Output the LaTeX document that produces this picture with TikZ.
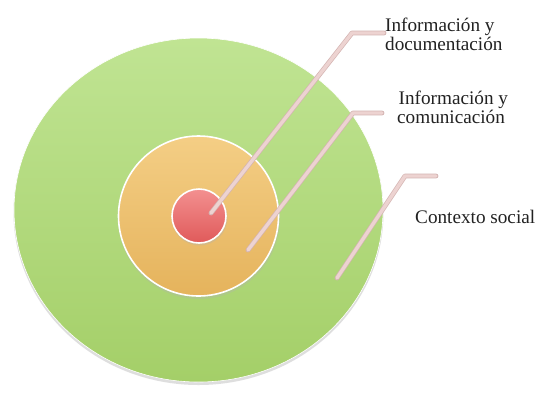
\documentclass[tikz,border=0pt]{standalone}
\usepackage{fontspec}
\setmainfont{Liberation Serif}
\usetikzlibrary{shapes.geometric,shadows}
\definecolor{gtop}{HTML}{C0E493}
\definecolor{gbot}{HTML}{A4CF68}
\definecolor{otop}{HTML}{F4CE85}
\definecolor{obot}{HTML}{E5B35C}
\definecolor{rtop}{HTML}{F39090}
\definecolor{rbot}{HTML}{E05A5A}
\definecolor{leadc}{HTML}{EDD3D1}
\definecolor{leade}{HTML}{D4B4B2}
\definecolor{txt}{HTML}{222222}
\tikzset{
  ring/.style={draw=white, line width=1.6pt, shading=axis, shading angle=0},
  leader/.style={line width=3.4pt, draw=leadc, line cap=round, line join=round,
    preaction={draw=leade, line width=4.8pt, line cap=round, line join=round}},
  lbl/.style={font=\fontsize{19.2}{17}\selectfont, text=txt, inner sep=0pt, anchor=base west, align=left},
}
\begin{document}
\begin{tikzpicture}[x=1pt,y=-1pt]
\useasboundingbox (0,0) rectangle (537,392);
\fill[white] (0,0) rectangle (537,392);
% shadow of big circle
\fill[black!25, opacity=0.5] (198.5,212.5) ellipse [x radius=185, y radius=172.5];
\node[ellipse, draw=white, line width=0.6pt, shading=axis, top color=gtop, bottom color=gbot,
  minimum width=369pt, minimum height=344pt, inner sep=0pt] (big) at (198.5,210) {};
\fill[black!30, opacity=0.35] (199,218) circle [radius=81];
\node[circle, ring, top color=otop, bottom color=obot, minimum size=160pt, inner sep=0pt] (mid) at (198.5,216) {};
\fill[black!30, opacity=0.35] (199.5,217.5) circle [radius=28];
\node[circle, ring, top color=rtop, bottom color=rbot, minimum size=54pt, inner sep=0pt] (core) at (199,216) {};

\node[lbl] (t1) at (385,50) {Información y\\documentación};
\node[lbl] (t2) at (397,123) {\hspace*{1.5pt}Información y\\comunicación};
\node[lbl] (t3) at (415,223) {Contexto social};

\coordinate (a1) at (211,213);
\coordinate (b1) at (352,33);
\coordinate (c1) at (384,33);
\coordinate (a2) at (248,250);
\coordinate (b2) at (353,113);
\coordinate (c2) at (382,113);
\coordinate (a3) at (337,278);
\coordinate (b3) at (405,176);
\coordinate (c3) at (436,176);
\draw[leader] (a1) -- (b1) -- (c1);
\draw[leader] (a2) -- (b2) -- (c2);
\draw[leader] (a3) -- (b3) -- (c3);
\end{tikzpicture}
\end{document}
